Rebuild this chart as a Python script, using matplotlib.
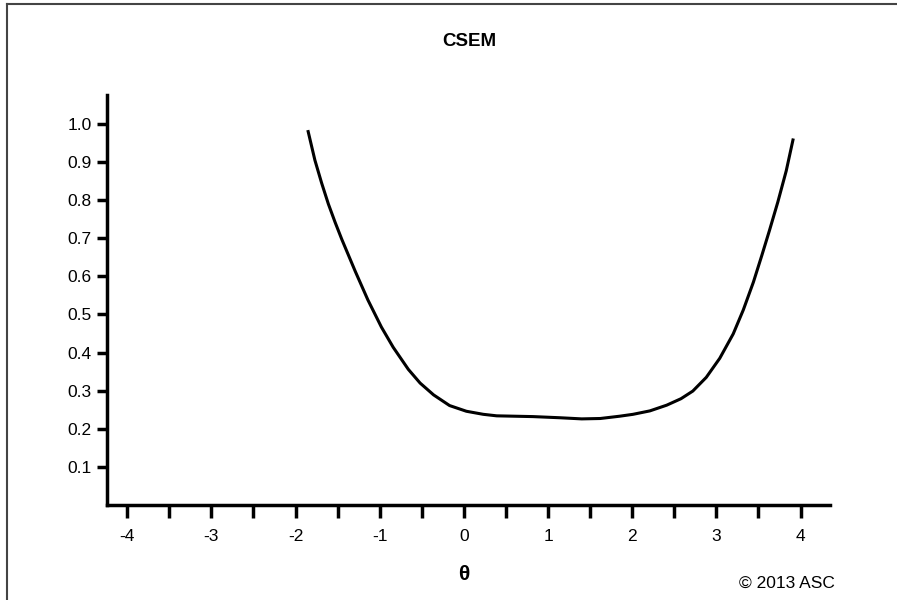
#!/usr/bin/env python3
"""CSEM curve over theta."""

import matplotlib.pyplot as plt
from matplotlib.lines import Line2D

plt.rcParams["font.family"] = ["Liberation Sans", "DejaVu Sans"]

# values
theta = [-1.85, -1.77, -1.69, -1.61, -1.53, -1.45, -1.37, -1.29, -1.21, -1.14,
         -0.98, -0.84, -0.66, -0.52, -0.36, -0.17, 0.03, 0.23, 0.39, 0.82,
         1.14, 1.40, 1.62, 1.85, 2.01, 2.21, 2.41, 2.58, 2.72, 2.88,
         3.04, 3.20, 3.32, 3.44, 3.54, 3.63, 3.73, 3.83, 3.91]
csem = [0.98, 0.905, 0.845, 0.79, 0.742, 0.697, 0.655, 0.613, 0.573, 0.538,
        0.467, 0.414, 0.356, 0.32, 0.289, 0.261, 0.246, 0.238, 0.234, 0.232,
        0.229, 0.226, 0.227, 0.233, 0.238, 0.247, 0.262, 0.279, 0.299, 0.335,
        0.385, 0.449, 0.512, 0.585, 0.655, 0.72, 0.795, 0.877, 0.958]

x_ticks = [-4, -3, -2, -1, 0, 1, 2, 3, 4]
x_minor = [-3.5, -2.5, -1.5, -0.5, 0.5, 1.5, 2.5, 3.5]
y_ticks = [0.1, 0.2, 0.3, 0.4, 0.5, 0.6, 0.7, 0.8, 0.9, 1.0]

fig = plt.figure(figsize=(8.97, 6.0), dpi=100)
ax = fig.add_axes([107 / 897, 1 - 505 / 600, (830 - 107) / 897, (505 - 95) / 600])

ax.plot(theta, csem, color="black", linewidth=2.2, solid_joinstyle="round")

ax.set_xlim(-4.24, 4.35)
ax.set_ylim(0, 1.076)
ax.set_xticks(x_ticks)
ax.set_xticklabels([str(t) for t in x_ticks])
ax.set_xticks(x_minor, minor=True)
ax.set_yticks(y_ticks)
ax.set_yticklabels([f"{v:.1f}" for v in y_ticks])

for side in ("top", "right"):
    ax.spines[side].set_visible(False)
for side in ("left", "bottom"):
    ax.spines[side].set_linewidth(2.5)

ax.tick_params(axis="x", which="both", direction="out", length=9, width=2.5,
               labelsize=12.5, pad=8)
ax.tick_params(axis="y", direction="out", length=7, width=2.5, labelsize=12.5, pad=4)

fig.text(469 / 897, 1 - 42 / 600, "CSEM", ha="center", va="center",
         fontsize=13.5, fontweight="bold")
fig.text(464 / 897, 1 - 575 / 600, "\u03b8", ha="center", va="center",
         fontsize=15, fontweight="bold")
fig.text(787 / 897, 1 - 583 / 600, "\u00a9 2013 ASC", ha="center", va="center",
         fontsize=12.5)

# frame lines on the left and top edge of the picture
fig.add_artist(Line2D([7 / 897, 7 / 897], [0, 1 - 4 / 600], transform=fig.transFigure,
                      color="#444444", linewidth=1.5))
fig.add_artist(Line2D([7 / 897, 1], [1 - 4 / 600, 1 - 4 / 600], transform=fig.transFigure,
                      color="#444444", linewidth=1.5))

fig.savefig("out.png", dpi=100)
plt.close(fig)
